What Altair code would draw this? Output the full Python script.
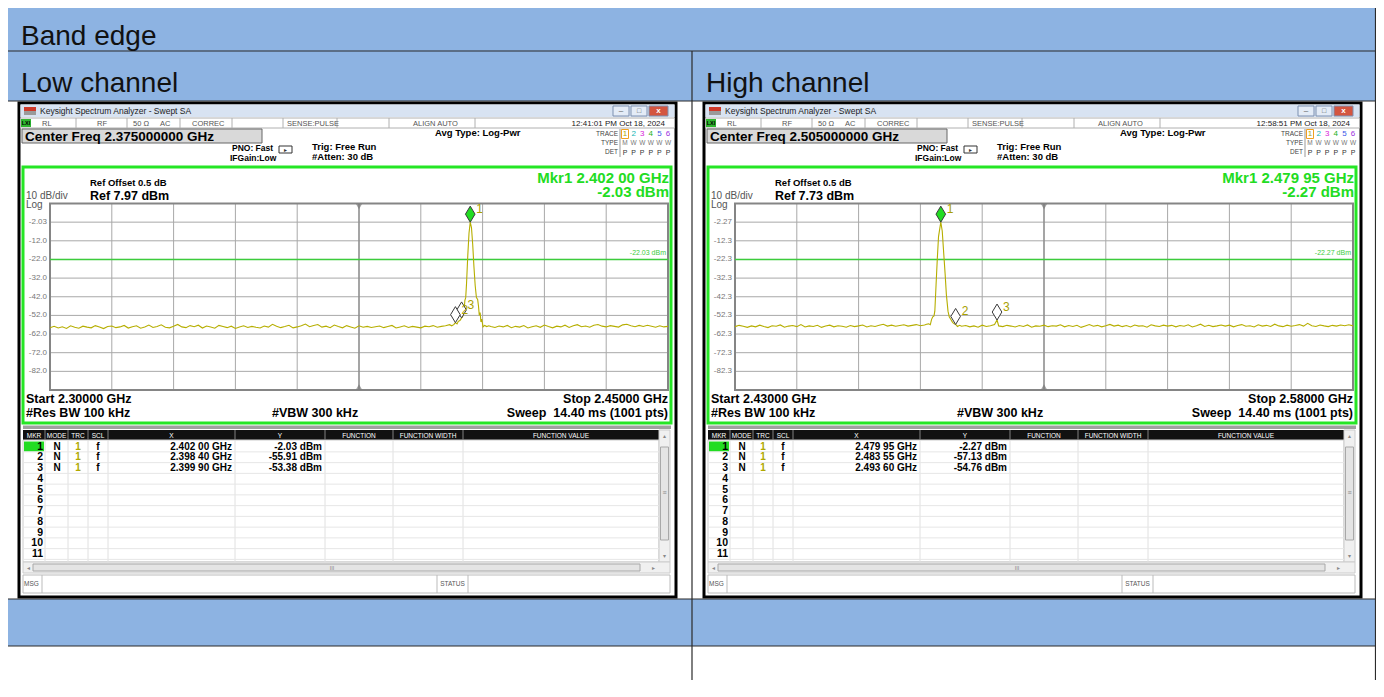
import altair as alt
import pandas as pd
from collections import defaultdict

FONT = "Liberation Sans"
OFF = 8  # page margin: reference pixel -> chart pixel

# ---------------- data ----------------
section_title = "Band edge"
panel_titles = ["Low channel", "High channel"]
window_title = "Keysight Spectrum Analyzer - Swept SA"
center_freq_text = ["Center Freq 2.375000000 GHz", "Center Freq 2.505000000 GHz"]
timestamps = ["12:41:01 PM Oct 18, 2024", "12:58:51 PM Oct 18, 2024"]
start_ghz = [2.30, 2.43]
stop_ghz = [2.45, 2.58]
center_ghz = [2.375, 2.505]
ref_dbm = [7.97, 7.73]
ref_text = ["Ref 7.97 dBm", "Ref 7.73 dBm"]
start_text = ["Start 2.30000 GHz", "Start 2.43000 GHz"]
stop_text = ["Stop 2.45000 GHz", "Stop 2.58000 GHz"]
sweep_text = "Sweep\u00a0 14.40 ms (1001 pts)"
mkr1_freq_text = ["Mkr1 2.402 00 GHz", "Mkr1 2.479 95 GHz"]
mkr1_amp_text = ["-2.03 dBm", "-2.27 dBm"]
display_line_dbm = [-22.03, -22.27]
display_line_text = ["-22.03 dBm", "-22.27 dBm"]
ytick_text = [
    ["-2.03", "-12.0", "-22.0", "-32.0", "-42.0", "-52.0", "-62.0", "-72.0", "-82.0"],
    ["-2.27", "-12.3", "-22.3", "-32.3", "-42.3", "-52.3", "-62.3", "-72.3", "-82.3"],
]
marker_freq = [[2.40200, 2.39840, 2.39990], [2.47995, 2.48355, 2.49360]]
marker_dbm = [[-2.03, -55.91, -53.38], [-2.27, -57.13, -54.76]]
marker_x_text = [["2.402 00 GHz", "2.398 40 GHz", "2.399 90 GHz"],
                 ["2.479 95 GHz", "2.483 55 GHz", "2.493 60 GHz"]]
marker_y_text = [["-2.03 dBm", "-55.91 dBm", "-53.38 dBm"],
                 ["-2.27 dBm", "-57.13 dBm", "-54.76 dBm"]]
table_header = ["MKR", "MODE", "TRC", "SCL", "X", "Y", "FUNCTION", "FUNCTION WIDTH", "FUNCTION VALUE"]
status_items = ["RL", "RF", "50 \u03a9", "AC", "CORREC", "SENSE:PULSE", "ALIGN AUTO"]

# trace readings (dBm), 1 MHz apart, left of the carrier / right of it, plus the carrier itself
SWEEP_STEP = 0.001
low_left_dbm = [
    -58.6, -57.9, -58.8, -58.1, -59.0, -57.6, -58.4, -58.9, -57.8, -58.3,
    -58.7, -57.5, -58.2, -59.1, -58.0, -57.7, -58.6, -58.2, -57.4, -58.8,
    -58.1, -57.6, -58.9, -58.3, -57.2, -58.5, -58.0, -57.1, -58.4, -58.7,
    -57.9, -56.9, -58.2, -58.6, -57.5, -58.1, -57.3, -58.8, -57.7, -58.3,
    -58.9, -57.4, -58.0, -58.6, -57.8, -59.0, -58.2, -57.6, -58.5, -57.9,
    -58.4, -58.8, -57.7, -58.3, -56.8, -57.9, -58.6, -58.0, -57.3, -58.7,
    -58.2, -57.6, -56.7, -58.1, -57.4, -56.9, -58.3, -57.8, -58.6, -57.2,
    -58.0, -58.7, -57.5, -58.2, -58.9, -57.6, -58.4, -57.9, -58.5, -58.1,
    -57.7, -58.6, -58.0, -57.4, -58.8, -58.2, -57.6, -58.5, -57.9, -58.3,
    -58.7, -57.8, -58.1, -57.5, -58.4, -57.9, -57.6, -57.0]
low_peak_freq = [2.3975, 2.3980, 2.3984, 2.3988, 2.3991, 2.3995, 2.3999, 2.4002, 2.4005,
                 2.4007, 2.4009, 2.4011, 2.4014, 2.4017, 2.4020, 2.4023, 2.4026, 2.4029,
                 2.4032, 2.4035, 2.4038, 2.4040, 2.4042, 2.4044, 2.4046, 2.4048, 2.4051,
                 2.4055, 2.4060, 2.4065]
low_peak_dbm = [-57.6, -57.0, -55.91, -56.6, -55.2, -54.8, -53.38, -52.5, -49.0,
                -44.0, -42.5, -35.0, -20.0, -8.0, -2.03, -5.0, -14.0, -26.0,
                -36.0, -42.5, -43.5, -47.0, -52.0, -50.5, -55.5, -54.0, -58.2,
                -57.4, -58.0, -57.6]
low_right_dbm = [
    -58.0, -58.5, -57.7, -58.2, -57.4, -58.6, -57.9, -58.3, -57.5, -58.8,
    -58.1, -57.6, -58.4, -57.2, -58.0, -58.7, -57.8, -58.2, -57.3, -58.5,
    -57.6, -57.0, -58.1, -57.7, -58.4, -57.3, -56.9, -57.8, -58.2, -57.5,
    -57.9, -58.3, -57.1, -56.8, -57.6, -58.1, -57.4, -58.0, -57.3, -57.8,
    -58.4, -57.6, -58.2, -57.9]
high_left_dbm = [
    -58.3, -57.6, -58.1, -58.7, -57.9, -58.4, -57.5, -58.2, -58.8, -57.8,
    -58.1, -57.4, -58.6, -58.0, -57.7, -58.3, -57.2, -58.5, -57.9, -58.2,
    -57.6, -58.7, -58.0, -57.5, -58.4, -57.8, -58.1, -58.6, -57.7, -58.3,
    -57.9, -57.4, -58.5, -57.8, -58.2, -57.6, -57.0, -58.0, -57.5, -58.1,
    -57.7, -57.3, -58.0, -57.6, -57.2, -57.8, -57.4]
high_peak_freq = [2.4765, 2.4770, 2.4774, 2.4777, 2.4780, 2.4783, 2.4785, 2.4788, 2.4791,
                  2.4794, 2.47995, 2.4803, 2.4806, 2.4810, 2.4813, 2.4817, 2.4820, 2.4824,
                  2.4828, 2.4832, 2.48355, 2.4840, 2.4845, 2.4936]
high_peak_dbm = [-57.0, -56.8, -57.3, -54.5, -53.0, -52.5, -50.0, -36.0, -22.0,
                 -10.0, -2.27, -7.0, -17.0, -30.0, -41.0, -50.0, -53.0, -54.5,
                 -56.0, -56.8, -57.13, -58.2, -57.6, -54.76]
high_right_dbm = [
    -58.1, -57.7, -58.4, -57.9, -58.6, -57.5, -58.2, -57.8, -57.2, -57.9,
    -58.3, -57.6, -58.0, -58.5, -57.7, -58.2, -57.4, -58.6, -57.9, -58.1,
    -57.5, -58.3, -57.8, -58.0, -57.3, -58.4, -57.7, -58.2, -57.6, -58.7,
    -57.9, -57.2, -58.1, -57.6, -58.4, -57.8, -57.1, -58.0, -57.5, -58.3,
    -57.7, -58.5, -57.4, -58.0, -57.8, -58.6, -57.3, -57.9, -58.2, -57.5,
    -58.0, -57.6, -58.4, -57.7, -58.1, -57.3, -58.5, -57.8, -57.0, -58.2,
    -57.6, -58.3, -57.9, -57.4, -58.0, -57.5, -58.4, -57.7, -57.2, -58.1,
    -57.8, -58.5, -57.3, -58.0, -57.6, -58.2, -57.0, -57.9, -58.3, -57.5,
    -58.1, -57.7, -57.2, -58.0, -56.5, -57.8, -58.2, -57.4, -57.9, -58.3,
    -57.6, -58.0, -57.4, -57.8, -57.3, -57.9]
trace_left = [low_left_dbm, high_left_dbm]
trace_peak = [(low_peak_freq, low_peak_dbm), (high_peak_freq, high_peak_dbm)]
trace_right = [low_right_dbm, high_right_dbm]

# ---------------- layout (reference pixels) ----------------
PANEL_DX = [0, 685]
PX0, PX1, PY0, PY1 = 50, 668, 203.5, 390
W, H = 1368, 672
PX = alt.Scale(domain=[OFF, OFF + W], range=[0, W], nice=False, zero=False)
PY = alt.Scale(domain=[OFF, OFF + H], range=[0, H], nice=False, zero=False)

BLUE = "#8db3e2"
GREEN = "#22dc22"
OLIVE = "#b0a800"

rects, rules = [], []
texts = defaultdict(list)


def R(x, x2, y, y2, fill, stroke="transparent", sw=0):
    rects.append((x, x2, y, y2, fill, stroke, sw))


def L(x, x2, y, y2, c, sw=1.0):
    rules.append((x, x2, y, y2, c, sw))


def T(x, y, t, s, c="#000000", align="left", weight="normal", baseline="middle"):
    texts[(align, weight, baseline)].append((x, y, t, s, c))


# document table
R(4, 1380, 3, 51, BLUE)
R(4, 1380, 51, 101, BLUE)
R(4, 1380, 599, 646, BLUE)
for yy in [3, 51, 101, 599, 646]:
    L(4, 1380, yy, yy, "#2b2b2b", 1.2)
L(4, 4, 3, 700, "#2b2b2b", 1.2)
L(1375.5, 1375.5, 3, 700, "#2b2b2b", 1.2)
L(692, 692, 51, 700, "#2b2b2b", 1.2)
T(21, 45, section_title, 28, "#111111", baseline="alphabetic")
T(21, 92, panel_titles[0], 28, "#111111", baseline="alphabetic")
T(706, 92, panel_titles[1], 28, "#111111", baseline="alphabetic")

status_x = [42, 97, 133, 160, 192, 287, 413]
col_bounds = [23, 45, 68, 88, 108, 235, 325, 393, 463, 659]
ROW0, ROWH = 446.5, 10.75

for p in range(2):
    d = PANEL_DX[p]
    # window frame and title bar
    R(19 + d, 676 + d, 103, 597, "#ffffff", "#000000", 3)
    R(20.5 + d, 674.5 + d, 104.5, 117, "#d8e3f2")
    R(24 + d, 36 + d, 107, 111, "#cf3a2a")
    R(24 + d, 36 + d, 111, 115, "#9a9a9a")
    T(40 + d, 111, window_title, 8.5, "#222222")
    for bx0, bx1, bf in [(613, 629, "#e4ecf7"), (631, 647, "#e4ecf7"), (649, 668, "#d4553f")]:
        R(bx0 + d, bx1 + d, 106, 116, bf, "#7d90b0", 1)
    T(621 + d, 111, "\u2013", 8, "#555555", align="center")
    T(639 + d, 111, "\u25a1", 7, "#555555", align="center")
    T(658.5 + d, 111, "x", 8, "#ffffff", align="center", weight="bold")
    # status bar
    R(20.5 + d, 674.5 + d, 118, 128, "#ffffff", "#b0b0b0", 1)
    R(21 + d, 31 + d, 119, 127, "#2fb52f")
    T(26 + d, 123, "LXI", 5.5, "#000000", align="center", weight="bold")
    for sx in [76, 127, 180, 232, 283, 337, 389, 475]:
        L(sx + d, sx + d, 118, 128, "#b0b0b0")
    for sx, st in zip(status_x, status_items):
        T(sx + d, 123.5, st, 7.5, "#555555")
    T(665 + d, 123.5, timestamps[p], 8, "#222222", align="right")
    # center frequency box and settings
    R(22 + d, 262 + d, 129, 143, "#d9d9d9", "#666666", 1)
    T(25 + d, 136.5, center_freq_text[p], 13.5, "#000000", weight="bold")
    T(232 + d, 148, "PNO: Fast", 8.5, "#000000", weight="bold")
    T(230 + d, 158, "IFGain:Low", 8.5, "#000000", weight="bold")
    R(279 + d, 292 + d, 146, 153, "#ffffff", "#333333", 1)
    T(285.5 + d, 149.5, "\u25b8", 6, "#333333", align="center")
    T(312 + d, 147, "Trig: Free Run", 9.5, "#000000", weight="bold")
    T(312 + d, 157, "#Atten: 30 dB", 9.5, "#000000", weight="bold")
    T(435 + d, 133, "Avg Type: Log-Pwr", 9.5, "#000000", weight="bold")
    T(618 + d, 134, "TRACE", 6.5, "#444444", align="right")
    T(618 + d, 143, "TYPE", 6.5, "#444444", align="right")
    T(618 + d, 152, "DET", 6.5, "#444444", align="right")
    L(620 + d, 620 + d, 129, 157, "#999999")
    R(621.5 + d, 628.5 + d, 129.5, 138.5, "transparent", "#f0a020", 1)
    for k, col in enumerate([OLIVE, "#13b5b5", "#d81bd8", "#22b022", "#3a56e8", "#9b30e0"]):
        T(625 + 8.6 * k + d, 134, str(k + 1), 8, col, align="center")
        T(625 + 8.6 * k + d, 152.5, "P", 7, "#333333", align="center")
        T(625 + 8.6 * k + d, 143, "M" if k == 0 else "W", 6.5, "#777777", align="center")
    # green measurement frame
    R(23 + d, 671 + d, 167, 423, "#ffffff", "#25e625", 3)
    T(669 + d, 177.5, mkr1_freq_text[p], 15, GREEN, align="right", weight="bold")
    T(669 + d, 192, mkr1_amp_text[p], 15, GREEN, align="right", weight="bold")
    T(90 + d, 183, "Ref Offset 0.5 dB", 9.5, "#000000", weight="bold")
    T(90 + d, 195.5, ref_text[p], 12.5, "#000000", weight="bold")
    T(26 + d, 196, "10 dB/div", 10, "#555555")
    T(26 + d, 205, "Log", 10, "#555555")
    T(26 + d, 398.5, start_text[p], 12.5, "#000000", weight="bold")
    T(26 + d, 413, "#Res BW 100 kHz", 12.5, "#000000", weight="bold")
    T(272 + d, 413, "#VBW 300 kHz", 12.5, "#000000", weight="bold")
    T(668 + d, 398.5, stop_text[p], 12.5, "#000000", align="right", weight="bold")
    T(668 + d, 413, sweep_text, 12.5, "#000000", align="right", weight="bold")
    # marker table
    R(23 + d, 671 + d, 425.5, 429, "#a0a0a0")
    R(23 + d, 659 + d, 430, 440, "#111111")
    R(23 + d, 659 + d, 440, 562, "#ffffff", "#cccccc", 1)
    for cx in col_bounds[1:-1]:
        L(cx + d, cx + d, 430, 440, "#808080")
        L(cx + d, cx + d, 440, 562, "#e0e0e0")
    for k in range(1, 12):
        yy = ROW0 - ROWH / 2 + ROWH * k
        L(23 + d, 659 + d, yy, yy, "#e6e6e6")
    for k, h in enumerate(table_header):
        cxm = (col_bounds[k] + col_bounds[k + 1]) / 2
        T(cxm + d, 435.5, h, 6.5, "#ffffff", align="center")
    R(24 + d, 44 + d, 441.5, 451.5, GREEN)
    for k in range(11):
        yy = ROW0 + ROWH * k
        T(43 + d, yy, str(k + 1), 10.5, "#000000", align="right", weight="bold")
    for k in range(3):
        yy = ROW0 + ROWH * k
        T(57 + d, yy, "N", 10, "#000000", align="center", weight="bold")
        T(78 + d, yy, "1", 10, OLIVE, align="center", weight="bold")
        T(98 + d, yy, "f", 10, "#000000", align="center", weight="bold")
        T(232 + d, yy, marker_x_text[p][k], 10, "#000000", align="right", weight="bold")
        T(322 + d, yy, marker_y_text[p][k], 10, "#000000", align="right", weight="bold")
    # scrollbars, message line
    R(659 + d, 670 + d, 430, 562, "#f0f0f0", "#cccccc", 1)
    R(660.5 + d, 668.5 + d, 447, 540, "#e4e4e4", "#a8a8a8", 1)
    T(664.5 + d, 436, "\u25b4", 6, "#888888", align="center")
    T(664.5 + d, 556, "\u25be", 6, "#888888", align="center")
    T(664.5 + d, 493, "\u2261", 7, "#888888", align="center")
    R(23 + d, 670 + d, 562, 573, "#f0f0f0", "#cccccc", 1)
    R(33 + d, 640 + d, 564, 571, "#e4e4e4", "#a8a8a8", 1)
    T(28 + d, 567.5, "\u25c2", 6, "#888888", align="center")
    T(653 + d, 567.5, "\u25b8", 6, "#888888", align="center")
    T(332 + d, 567.5, "III", 5.5, "#888888", align="center")
    R(23 + d, 670 + d, 575, 593, "#ffffff", "#bbbbbb", 1)
    L(42 + d, 42 + d, 575, 593, "#bbbbbb")
    L(437 + d, 437 + d, 575, 593, "#bbbbbb")
    L(468 + d, 468 + d, 575, 593, "#bbbbbb")
    T(24 + d, 584, "MSG", 6.5, "#555555")
    T(452.5 + d, 584, "STATUS", 6.5, "#555555", align="center")


def xq(field, scale=PX):
    return alt.X(field, scale=scale, axis=None)


def yq(field, scale=PY):
    return alt.Y(field, scale=scale, axis=None)


layers = []
rdf = pd.DataFrame(rects, columns=["x", "x2", "y", "y2", "fill", "stroke", "sw"])
layers.append(alt.Chart(rdf).mark_rect().encode(
    x=xq("x:Q"), x2="x2:Q", y=yq("y:Q"), y2="y2:Q",
    fill=alt.Fill("fill:N", scale=None), stroke=alt.Stroke("stroke:N", scale=None),
    strokeWidth=alt.StrokeWidth("sw:Q", scale=None)))
ldf = pd.DataFrame(rules, columns=["x", "x2", "y", "y2", "c", "sw"])
layers.append(alt.Chart(ldf).mark_rule().encode(
    x=xq("x:Q"), x2="x2:Q", y=yq("y:Q"), y2="y2:Q",
    color=alt.Color("c:N", scale=None), strokeWidth=alt.StrokeWidth("sw:Q", scale=None)))

MARKER_PATH = "M0,0L-0.6,-1L0,-2L0.6,-1Z"

for p in range(2):
    d = PANEL_DX[p]
    f0, f1, ref = start_ghz[p], stop_ghz[p], ref_dbm[p]
    xs = alt.Scale(domain=[f0, f1], range=[PX0 + d - OFF, PX1 + d - OFF], nice=False, zero=False)
    ys = alt.Scale(domain=[ref - 100, ref], range=[PY1 - OFF, PY0 - OFF], nice=False, zero=False)
    span = f1 - f0
    vg = pd.DataFrame({"f": [f0 + span * k / 10 for k in range(1, 10) if k != 5],
                       "top": ref, "bot": ref - 100})
    hg = pd.DataFrame({"lvl": [ref - 10 * k for k in range(1, 10)], "a": f0, "b": f1})
    layers.append(alt.Chart(vg).mark_rule(color="#a8a8a8", strokeWidth=1).encode(
        x=xq("f:Q", xs), y=yq("top:Q", ys), y2="bot:Q"))
    layers.append(alt.Chart(hg).mark_rule(color="#a8a8a8", strokeWidth=1).encode(
        y=yq("lvl:Q", ys), x=xq("a:Q", xs), x2="b:Q"))
    cdf = pd.DataFrame({"f": [center_ghz[p]], "top": [ref], "bot": [ref - 100]})
    layers.append(alt.Chart(cdf).mark_rule(color="#8f8f8f", strokeWidth=1.6).encode(
        x=xq("f:Q", xs), y=yq("top:Q", ys), y2="bot:Q"))
    bdf = pd.DataFrame({"a": [f0], "b": [f1], "top": [ref], "bot": [ref - 100]})
    layers.append(alt.Chart(bdf).mark_rect(fill="transparent", stroke="#858585", strokeWidth=2).encode(
        x=xq("a:Q", xs), x2="b:Q", y=yq("top:Q", ys), y2="bot:Q"))
    ddf = pd.DataFrame({"lvl": [display_line_dbm[p]], "a": [f0], "b": [f1], "t": [display_line_text[p]]})
    layers.append(alt.Chart(ddf).mark_rule(color="#3ccc3c", strokeWidth=1.5).encode(
        y=yq("lvl:Q", ys), x=xq("a:Q", xs), x2="b:Q"))
    layers.append(alt.Chart(ddf).mark_text(align="right", baseline="middle", dx=-2, dy=-6,
                                           fontSize=7, color="#3ccc3c", font=FONT).encode(
        y=yq("lvl:Q", ys), x=xq("b:Q", xs), text="t:N"))
    # trace
    pts = [(round(f0 + i * SWEEP_STEP, 6), v) for i, v in enumerate(trace_left[p])]
    pts += list(zip(trace_peak[p][0], trace_peak[p][1]))
    n = len(trace_right[p])
    pts += [(round(f1 - (n - 1 - i) * SWEEP_STEP, 6), v) for i, v in enumerate(trace_right[p])]
    tdf = pd.DataFrame(pts, columns=["f", "dbm"]).sort_values("f").reset_index(drop=True)
    tdf["i"] = range(len(tdf))
    layers.append(alt.Chart(tdf).mark_line(color="#b6ae00", strokeWidth=1.1).encode(
        x=xq("f:Q", xs), y=yq("dbm:Q", ys), order="i:Q"))
    # center frequency indicators
    layers.append(alt.Chart(cdf).mark_point(shape="triangle-down", size=40, filled=True, color="#7a7a7a",
                                            yOffset=3).encode(x=xq("f:Q", xs), y=yq("top:Q", ys)))
    layers.append(alt.Chart(cdf).mark_point(shape="triangle-up", size=40, filled=True, color="#7a7a7a",
                                            yOffset=-3).encode(x=xq("f:Q", xs), y=yq("bot:Q", ys)))
    # markers
    mdf = pd.DataFrame({"f": marker_freq[p], "dbm": marker_dbm[p], "n": ["1", "2", "3"],
                        "fill": [GREEN, "#ffffff", "#ffffff"]})
    mdf = mdf.iloc[::-1]
    layers.append(alt.Chart(mdf).mark_point(shape=MARKER_PATH, size=256, filled=True, stroke="#3a3a3a",
                                            strokeWidth=1, opacity=1).encode(
        x=xq("f:Q", xs), y=yq("dbm:Q", ys), fill=alt.Fill("fill:N", scale=None)))
    layers.append(alt.Chart(mdf).mark_text(align="left", baseline="middle", dx=6, dy=-13, fontSize=12,
                                           color="#a8a000", font=FONT).encode(
        x=xq("f:Q", xs), y=yq("dbm:Q", ys), text="n:N"))
    # y tick labels
    ydf = pd.DataFrame({"lvl": [ref - 10 * k for k in range(1, 10)], "t": ytick_text[p], "px": PX0 + d - 3})
    layers.append(alt.Chart(ydf).mark_text(align="right", baseline="middle", fontSize=8, color="#777777",
                                           font=FONT).encode(
        x=xq("px:Q"), y=yq("lvl:Q", ys), text="t:N"))

for (align, weight, baseline), rows in texts.items():
    tdf = pd.DataFrame(rows, columns=["x", "y", "t", "s", "c"])
    layers.append(alt.Chart(tdf).mark_text(align=align, baseline=baseline, fontWeight=weight, font=FONT).encode(
        x=xq("x:Q"), y=yq("y:Q"), text="t:N",
        size=alt.Size("s:Q", scale=None), color=alt.Color("c:N", scale=None)))

chart = alt.layer(*layers).resolve_scale(x="independent", y="independent").properties(
    width=W, height=H, padding=0, autosize=alt.AutoSizeParams(type="none"), background="#ffffff"
).configure_view(strokeWidth=0)

chart.save("out.html", embed_options={"renderer": "svg", "actions": False})
